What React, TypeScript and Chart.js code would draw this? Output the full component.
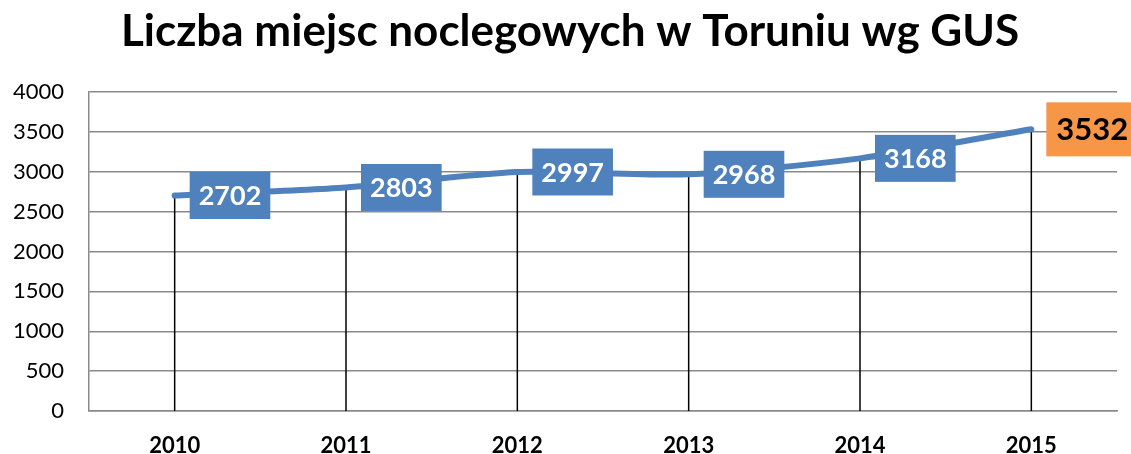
import React, { useEffect, useRef } from "react";
import { Chart, registerables } from "chart.js";

Chart.register(...registerables);

const title = "Liczba miejsc noclegowych w Toruniu wg GUS";
const categories = ["2010", "2011", "2012", "2013", "2014", "2015"];
const values = [2702, 2803, 2997, 2968, 3168, 3532];
const yMin = 0;
const yMax = 4000;
const yStep = 500;

const BLUE = "#4F81BD";
const ORANGE = "#F79646";
const GRID = "#8a8a8a";
const FONT = "Lato, 'Open Sans', sans-serif";

const chartTitle = {
  id: "chartTitle",
  afterDraw(chart: any) {
    const ctx = chart.ctx;
    ctx.save();
    ctx.font = `bold 44px ${FONT}`;
    ctx.fillStyle = "#000";
    ctx.textAlign = "center";
    ctx.textBaseline = "alphabetic";
    ctx.fillText(title, 570, 46);
    ctx.restore();
  },
};

const dropLines = {
  id: "dropLines",
  beforeDatasetsDraw(chart: any) {
    const ctx = chart.ctx;
    const meta = chart.getDatasetMeta(0);
    const bottom = chart.scales.y.getPixelForValue(yMin);
    ctx.save();
    ctx.strokeStyle = "#000";
    ctx.lineWidth = 1.5;
    meta.data.forEach((p: any) => {
      ctx.beginPath();
      ctx.moveTo(p.x, p.y);
      ctx.lineTo(p.x, bottom);
      ctx.stroke();
    });
    ctx.restore();
  },
};

const boxLabels = {
  id: "boxLabels",
  afterDatasetsDraw(chart: any) {
    const ctx = chart.ctx;
    const meta = chart.getDatasetMeta(0);
    const data = chart.data.datasets[0].data;
    const n = meta.data.length;
    ctx.save();
    meta.data.forEach((p: any, i: number) => {
      const last = i === n - 1;
      const size = last ? 31 : 27;
      ctx.font = `bold ${size}px ${FONT}`;
      const text = String(data[i]);
      const tw = ctx.measureText(text).width;
      const w = tw + (last ? 20 : 18);
      const h = last ? 54 : 47;
      const x0 = p.x + 15;
      const y0 = p.y - h / 2;
      ctx.fillStyle = last ? ORANGE : BLUE;
      ctx.fillRect(x0, y0, w, h);
      ctx.fillStyle = last ? "#000" : "#fff";
      ctx.textAlign = "center";
      ctx.textBaseline = "middle";
      ctx.fillText(text, x0 + w / 2, p.y + 1);
    });
    ctx.restore();
  },
};

export default function App() {
  const ref = useRef<HTMLCanvasElement | null>(null);

  useEffect(() => {
    if (!ref.current) return;
    const chart = new Chart(ref.current, {
      type: "line",
      data: {
        labels: categories,
        datasets: [
          {
            data: values,
            borderColor: BLUE,
            backgroundColor: BLUE,
            borderWidth: 6,
            borderCapStyle: "round",
            borderJoinStyle: "round",
            tension: 0.25,
            pointRadius: 0,
            fill: false,
          },
        ],
      },
      options: {
        responsive: false,
        animation: false,
        layout: { padding: { top: 92, right: 14, left: 0, bottom: 0 } },
        plugins: {
          legend: { display: false },
          tooltip: { enabled: false },
          title: { display: false },
        },
        scales: {
          x: {
            offset: true,
            grid: { display: false, drawTicks: false },
            border: { display: true, color: GRID, width: 1.5 },
            ticks: {
              color: "#000",
              font: { family: FONT, size: 22, weight: "bold" },
              padding: 22,
              maxRotation: 0,
            },
            afterFit(scale: any) {
              scale.height = 43;
            },
          },
          y: {
            min: yMin,
            max: yMax,
            grid: { color: GRID, lineWidth: 1.5, drawTicks: false },
            border: { display: true, color: GRID, width: 1.5 },
            ticks: {
              stepSize: yStep,
              color: "#000",
              font: { family: FONT, size: 22 },
              padding: 25,
              callback: (v: any) => String(v),
            },
            afterFit(scale: any) {
              scale.width = 89;
            },
          },
        },
      },
      plugins: [dropLines, boxLabels, chartTitle],
    });
    return () => chart.destroy();
  }, []);

  return (
    <div style={{ position: "fixed", left: 0, top: 0, width: 1131, height: 454, background: "#fff" }}>
      <canvas ref={ref} width={1131} height={454} />
    </div>
  );
}
